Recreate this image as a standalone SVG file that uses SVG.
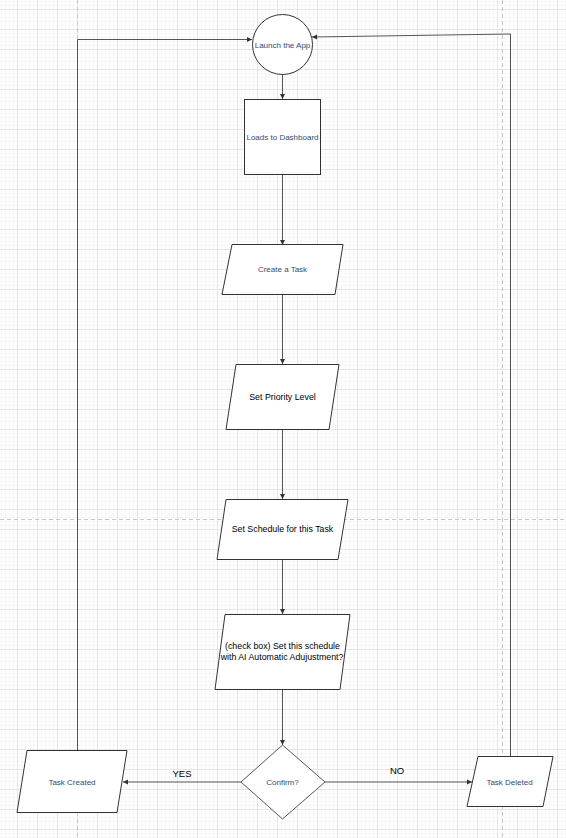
<svg xmlns="http://www.w3.org/2000/svg" width="566" height="838" viewBox="0 0 566 838">
<style>
.shape{fill:#fff;stroke:#333;stroke-width:1}
.edge{fill:none;stroke:#555;stroke-width:1;marker-end:url(#arr)}
.t{font-family:"Liberation Sans",Arial,sans-serif;text-anchor:middle}
.s{font-size:8px;fill:#2f4b78}
.m{font-size:8.8px;fill:#000}
.l{font-size:9.5px;fill:#000}
.pb{stroke:#c8c8c8;stroke-width:1;stroke-dasharray:4 3;fill:none}
</style>
<defs>
<pattern id="grid" patternUnits="userSpaceOnUse" x="17" y="9" width="20" height="20">
<rect width="20" height="20" fill="#fff"/>
<path d="M4.5,0V20M8.5,0V20M12.5,0V20M16.5,0V20M0,4.5H20M0,8.5H20M0,12.5H20M0,16.5H20" stroke="#f7f7f7" stroke-width="1"/>
<path d="M0.5,0V20M0,0.5H20" stroke="#e6e6e6" stroke-width="1"/>
</pattern>
<marker id="arr" markerWidth="6" markerHeight="6" refX="5" refY="3" orient="auto" markerUnits="userSpaceOnUse">
<path d="M0,0.5L5,3L0,5.5z" fill="#333"/>
</marker>
</defs>
<rect width="566" height="838" fill="url(#grid)"/>
<g id="page-breaks">
<path class="pb" d="M77.5,0V838M502.5,0V838M0,519.5H566"/>
</g>
<g id="connectors">
<path class="edge" d="M282.5,74V99"/>
<path class="edge" d="M282.5,174V245"/>
<path class="edge" d="M282.5,294V364"/>
<path class="edge" d="M282.5,429V499"/>
<path class="edge" d="M282.5,559V614"/>
<path class="edge" d="M282.5,689V745"/>
<path class="edge" d="M241,782H123"/>
<path class="edge" d="M325,782H472"/>
<path class="edge" d="M77.5,750V39.5H252"/>
<path class="edge" d="M510.5,757V34L312,37"/>
<text class="t l" x="182" y="777">YES</text>
<text class="t l" x="397" y="774">NO</text>
</g>
<g id="launch">
<circle class="shape" cx="282.5" cy="44.5" r="30"/>
<text class="t s" x="282.5" y="47.5">Launch the App</text>
</g>
<g id="dashboard">
<rect class="shape" x="244.5" y="99.5" width="76" height="75"/>
<text class="t s" x="282.5" y="139.5">Loads to Dashboard</text>
</g>
<g id="create">
<path class="shape" d="M232,244.5H343L335,294.5H222z"/>
<text class="t s" x="282.5" y="272">Create a Task</text>
</g>
<g id="priority">
<path class="shape" d="M236,364.5H339L329,429.5H226z"/>
<text class="t m" x="282.5" y="400">Set Priority Level</text>
</g>
<g id="schedule">
<path class="shape" d="M226,499.5H348L338,559.5H217z"/>
<text class="t m" x="282.5" y="532">Set Schedule for this Task</text>
</g>
<g id="checkbox">
<path class="shape" d="M225,614.5H350L340,689.5H215z"/>
<text class="t m" x="282.5" y="649">(check box) Set this schedule</text>
<text class="t m" x="282" y="660">with AI Automatic Adujustment?</text>
</g>
<g id="confirm">
<path class="shape" d="M282.5,745L325,782L282.5,819L241,782z" style="stroke:#555"/>
<text class="t s" x="282.5" y="785">Confirm?</text>
</g>
<g id="created">
<path class="shape" d="M27,750.5H127L117,812.5H17z"/>
<text class="t s" x="72" y="785">Task Created</text>
</g>
<g id="deleted">
<path class="shape" d="M478,756.5H553L543,806.5H467z"/>
<text class="t s" x="509.5" y="785">Task Deleted</text>
</g>
</svg>
